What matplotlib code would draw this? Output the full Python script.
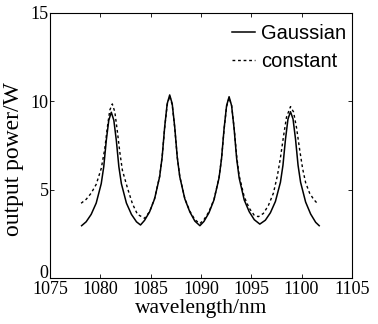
import matplotlib
matplotlib.use("Agg")
import matplotlib.pyplot as plt

plt.rcParams['font.family'] = ['Liberation Serif', 'DejaVu Serif']

# Gaussian pumping curve
wl_gauss = [1078.15, 1078.6, 1079.1, 1079.6, 1080.1, 1080.35, 1080.6, 1080.85, 1081.1, 1081.35,
            1081.6, 1081.85, 1082.1, 1082.6, 1083.1, 1083.6, 1084.0,
            1084.4, 1084.9, 1085.4, 1085.9, 1086.15, 1086.4, 1086.65, 1086.9, 1087.15, 1087.4,
            1087.65, 1087.9, 1088.4, 1088.9, 1089.4, 1089.9,
            1090.3, 1090.8, 1091.3, 1091.8, 1092.05, 1092.3, 1092.55, 1092.8, 1093.05, 1093.3,
            1093.55, 1093.8, 1094.3, 1094.8, 1095.3, 1095.85,
            1096.4, 1096.9, 1097.4, 1097.9, 1098.15, 1098.4, 1098.65, 1098.9, 1099.15, 1099.4,
            1099.65, 1099.9, 1100.4, 1100.9, 1101.4, 1101.75]
p_gauss = [2.96, 3.18, 3.60, 4.24, 5.34, 6.30, 7.78, 8.93, 9.38, 8.93,
           7.78, 6.30, 5.34, 4.24, 3.60, 3.18, 3.00,
           3.26, 3.74, 4.48, 5.73, 6.84, 8.54, 9.86, 10.36, 9.86, 8.54,
           6.84, 5.73, 4.48, 3.74, 3.22, 2.96,
           3.20, 3.69, 4.42, 5.66, 6.76, 8.44, 9.75, 10.26, 9.75, 8.44,
           6.76, 5.66, 4.42, 3.75, 3.30, 3.05,
           3.27, 3.69, 4.33, 5.42, 6.38, 7.85, 9.00, 9.41, 9.00, 7.85,
           6.38, 5.42, 4.30, 3.62, 3.15, 2.96]

# constant pumping curve
wl_const = [1078.1, 1078.6, 1079.1, 1079.6, 1080.1, 1080.45, 1080.7, 1080.95, 1081.2, 1081.45,
            1081.7, 1081.95, 1082.2, 1082.7, 1083.2, 1083.7, 1084.4,
            1084.9, 1085.4, 1085.9, 1086.15, 1086.4, 1086.65, 1086.9, 1087.15, 1087.4,
            1087.65, 1087.9, 1088.4, 1088.9, 1089.4, 1089.9,
            1090.3, 1090.8, 1091.3, 1091.8, 1092.05, 1092.3, 1092.55, 1092.8, 1093.05, 1093.3,
            1093.55, 1093.8, 1094.3, 1094.8, 1095.3, 1095.7,
            1096.2, 1096.7, 1097.2, 1097.6, 1097.9, 1098.2, 1098.5, 1098.9, 1099.2, 1099.5,
            1099.8, 1100.1, 1100.4, 1100.8, 1101.2, 1101.55]
p_const = [4.23, 4.45, 4.80, 5.30, 6.20, 7.30, 8.50, 9.50, 9.85, 9.40,
           8.30, 7.10, 6.10, 5.10, 4.20, 3.60, 3.38,
           3.75, 4.50, 5.75, 6.85, 8.50, 9.80, 10.30, 9.80, 8.50,
           6.85, 5.75, 4.50, 3.78, 3.30, 3.08,
           3.30, 3.75, 4.45, 5.68, 6.76, 8.40, 9.70, 10.20, 9.75, 8.50,
           6.90, 5.80, 4.60, 3.95, 3.55, 3.47,
           3.65, 4.10, 4.80, 5.80, 6.80, 8.00, 9.10, 9.70, 9.40, 8.50,
           7.30, 6.20, 5.40, 4.80, 4.45, 4.23]

x_ticks = [1075, 1080, 1085, 1090, 1095, 1100, 1105]
y_ticks = [0, 5, 10, 15]

fig = plt.figure(figsize=(3.78, 3.24), dpi=100)
ax = fig.add_axes([0.132, 0.142, 0.799, 0.818])

ax.plot(wl_gauss, p_gauss, color='black', lw=1.1, label='Gaussian')
ax.plot(wl_const, p_const, color='black', lw=1.0, linestyle=(0, (2, 2)), label='constant')

ax.set_xlim(1075, 1105)
ax.set_ylim(0, 15)
ax.set_xticks(x_ticks)
ax.set_yticks(y_ticks)
ax.tick_params(direction='in', top=True, right=True, length=3, width=0.6,
               labelsize=13, pad=1)
ax.tick_params(axis='x', pad=2)
for s in ax.spines.values():
    s.set_linewidth(0.8)
# the "0" label sits on the axis line, just above the x tick labels
ax.yaxis.get_major_ticks()[0].label1.set_verticalalignment('baseline')

ax.set_xlabel('wavelength/nm', fontsize=15.5, labelpad=1)
ax.set_ylabel('output power/W', fontsize=17)
ax.yaxis.set_label_coords(-0.085, 0.45)

leg = ax.legend(loc='upper right', bbox_to_anchor=(1.018, 1.0), frameon=False,
                prop={'family': ['Liberation Sans Narrow', 'Liberation Sans', 'DejaVu Sans'], 'size': 14.5},
                handlelength=1.15, handletextpad=0.3, borderaxespad=0.35, labelspacing=0.45,
                borderpad=0.2)

fig.savefig('out.png', dpi=100)
